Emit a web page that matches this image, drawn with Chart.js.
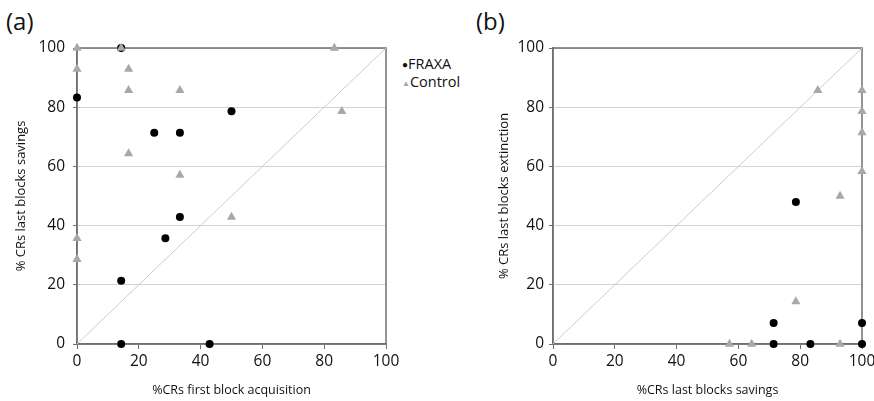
<!DOCTYPE html>
<html lang="en">
<head>
<meta charset="UTF-8">
<title>FRAXA vs Control</title>
<script src="https://cdn.jsdelivr.net/npm/chart.js"></script>
<style>
  body { margin: 0; background: #fff; font-family: 'Open Sans', sans-serif; }
  #wrap { position: relative; width: 874px; height: 401px; overflow: hidden; }
  canvas { position: absolute; top: 0; }
  #graficoA { left: 0; }
  #graficoB { left: 470px; }
  .painel { position: absolute; top: 4px; font-size: 24px; color: #111; }
  .legenda { position: absolute; left: 402px; top: 55px; font-size: 14.5px; line-height: 17px; color: #111; }
  .bola { font-size: 10px; vertical-align: 1px; }
  .tri { font-size: 8px; color: #a6a6a6; vertical-align: 1px; }
</style>
</head>
<body>
<div id="wrap">
  <div class="painel" style="left:6px">(a)</div>
  <div class="painel" style="left:476px">(b)</div>
  <div class="legenda">
    <div><span class="bola">●</span>FRAXA</div>
    <div><span class="tri">▲</span>Control</div>
  </div>
  <canvas id="graficoA" width="437" height="401"></canvas>
  <canvas id="graficoB" width="430" height="401"></canvas>
</div>
<script>
// painel (a)
const fraxaA_x = [0, 14.3, 25, 33.3, 50, 33.3, 28.6, 14.3, 14.3, 42.9];
const fraxaA_y = [83.3, 100, 71.4, 71.4, 78.6, 42.9, 35.7, 21.4, 0, 0];
const controleA_x = [0, 0, 14.3, 16.7, 16.7, 16.7, 33.3, 33.3, 83.3, 85.7, 50, 0, 0];
const controleA_y = [100, 92.9, 100, 92.9, 85.7, 64.3, 85.7, 57.1, 100, 78.6, 42.9, 35.7, 28.6];

// painel (b)
const fraxaB_x = [78.6, 71.4, 71.4, 83.3, 100, 100];
const fraxaB_y = [48, 7.1, 0, 0, 7.1, 0];
const controleB_x = [85.7, 100, 100, 100, 100, 92.9, 78.6, 57.1, 64.3, 92.9];
const controleB_y = [85.7, 85.7, 78.6, 71.4, 58.3, 50, 14.3, 0, 0, 0];

const marcas = [0, 20, 40, 60, 80, 100];
const diagonal = [0, 100];

const pares = (xs, ys) => xs.map((x, i) => ({ x: x, y: ys[i] }));

// caixa em volta da área do gráfico
const moldura = {
  id: 'moldura',
  beforeDatasetsDraw(chart) {
    const { ctx, chartArea: a } = chart;
    ctx.save();
    ctx.strokeStyle = '#707070';
    ctx.lineWidth = 1.5;
    ctx.strokeRect(a.left, a.top, a.right - a.left, a.bottom - a.top);
    ctx.restore();
  }
};

function montarGrafico(id, fx, fy, cx, cy, tituloX, tituloY, cfg) {
  return new Chart(document.getElementById(id), {
    type: 'scatter',
    data: {
      datasets: [
        {
          label: 'Control',
          data: pares(cx, cy),
          pointStyle: 'triangle',
          pointRadius: 5.3,
          backgroundColor: '#a8a8a8',
          borderColor: '#a8a8a8',
          borderWidth: 0,
          clip: false
        },
        {
          label: 'FRAXA',
          data: pares(fx, fy),
          pointStyle: 'circle',
          pointRadius: 4,
          backgroundColor: '#000',
          borderColor: '#000',
          borderWidth: 0,
          clip: false
        },
        {
          type: 'line',
          label: 'diagonal',
          data: pares(diagonal, diagonal),
          borderColor: '#cccccc',
          borderWidth: 1,
          pointRadius: 0
        }
      ]
    },
    options: {
      responsive: false,
      animation: false,
      events: [],
      layout: { padding: { left: 0, top: 48, right: cfg.direita, bottom: 0 } },
      plugins: { legend: { display: false }, tooltip: { enabled: false } },
      scales: {
        x: {
          type: 'linear', min: 0, max: 100,
          afterBuildTicks: s => { s.ticks = marcas.map(v => ({ value: v })); },
          afterFit: s => { s.height = 57; },
          ticks: { color: '#111', font: { family: 'Open Sans', size: 15.5 }, padding: 3, maxRotation: 0 },
          grid: { drawOnChartArea: false, drawTicks: true, tickLength: 5, tickColor: '#707070' },
          border: { color: '#707070', width: 1.5 },
          title: {
            display: true, text: tituloX, color: '#111',
            font: { family: 'Open Sans', size: 12.5 }, padding: { top: 0, bottom: 3 }
          }
        },
        y: {
          type: 'linear', min: 0, max: 100,
          afterBuildTicks: s => { s.ticks = marcas.map(v => ({ value: v })); },
          afterFit: s => { s.width = cfg.largY; },
          ticks: { color: '#111', font: { family: 'Open Sans', size: 15.5 }, padding: cfg.padY },
          grid: { color: '#d4d4d4', lineWidth: 1, tickLength: 4, tickColor: '#707070' },
          border: { color: '#707070', width: 1.5 },
          title: {
            display: true, text: tituloY, color: '#111',
            font: { family: 'Open Sans', size: 13 }, padding: { top: cfg.tituloY, bottom: 0 }
          }
        }
      }
    },
    plugins: [moldura]
  });
}

montarGrafico('graficoA', fraxaA_x, fraxaA_y, controleA_x, controleA_y,
  '%CRs first block acquisition', '% CRs last blocks savings',
  { direita: 51, largY: 77, padY: 8, tituloY: 13 });

montarGrafico('graficoB', fraxaB_x, fraxaB_y, controleB_x, controleB_y,
  '%CRs last blocks savings', '% CRs last blocks extinction',
  { direita: 38, largY: 83, padY: 5, tituloY: 26 });
</script>
</body>
</html>
